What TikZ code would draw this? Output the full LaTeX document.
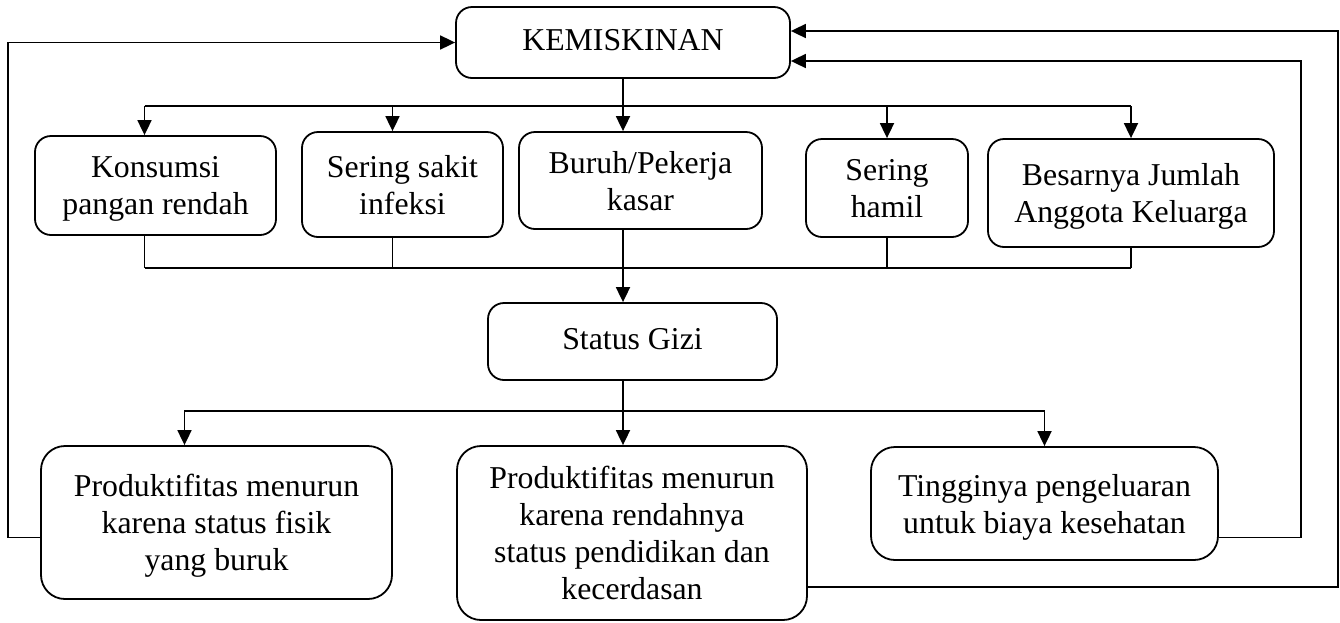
\documentclass[tikz,border=0pt]{standalone}
\usepackage{fontspec}
\setmainfont{Liberation Serif}
\usepackage{tikz}
\usetikzlibrary{arrows.meta}

\begin{document}
\begin{tikzpicture}[x=0.5pt, y=-0.5pt, line width=0.9pt,
  >={Triangle[length=7.5pt, width=7pt]},
  plainbox/.style={draw, rounded corners=8pt, align=center, inner sep=0pt,
    font=\fontsize{15.9}{18.5}\selectfont},
  box/.style={plainbox, text depth=-3.5pt},
  onebox/.style={plainbox, text depth=2.5pt},
  bigbox/.style={box, rounded corners=12pt}]
\useasboundingbox (0,0) rectangle (1340,622);

\node [onebox, minimum width=167pt, minimum height=35.5pt] (kem) at (623,42.5) {KEMISKINAN};

\node [box, minimum width=120.5pt, minimum height=49.5pt] (konsumsi) at (155.5,185.5) {Konsumsi\\pangan rendah};
\node [box, minimum width=100.5pt, minimum height=52.5pt] (sakit) at (402.5,184.5) {Sering sakit\\infeksi};
\node [box, minimum width=121.5pt, minimum height=48.5pt] (buruh) at (640.5,180.5) {Buruh/Pekerja\\kasar};
\node [box, minimum width=81pt, minimum height=49pt] (hamil) at (887,188) {Sering\\hamil};
\node [box, minimum width=143pt, minimum height=54pt] (besar) at (1131,193) {Besarnya Jumlah\\Anggota Keluarga};

\node [onebox, minimum width=144.5pt, minimum height=38.5pt] (gizi) at (632.5,341.5) {Status Gizi};

\node [bigbox, minimum width=175.5pt, minimum height=76.5pt] (fisik) at (216.5,522.5) {Produktifitas menurun\\karena status fisik\\yang buruk};
\node [bigbox, text depth=-11pt, minimum width=175pt, minimum height=87pt] (didik) at (632,533) {Produktifitas menurun\\karena rendahnya\\status pendidikan dan\\kecerdasan};
\node [bigbox, minimum width=173.5pt, minimum height=56.5pt] (tinggi) at (1044.5,503.5) {Tingginya pengeluaran\\untuk biaya kesehatan};

% kemiskinan to causes
\coordinate (upper) at (0,106);
\draw[->] (kem.south) -- (kem.south |- buruh.north);
\draw ([xshift=-5.5pt]konsumsi.north |- upper) -- (besar.north |- upper);
\draw[->] ([xshift=-5.5pt]konsumsi.north |- upper) -- ([xshift=-5.5pt]konsumsi.north);
\draw[->] ([xshift=-5pt]sakit.north |- upper) -- ([xshift=-5pt]sakit.north);
\draw[->] (hamil.north |- upper) -- (hamil.north);
\draw[->] (besar.north |- upper) -- (besar.north);

% causes to status gizi
\coordinate (lower) at (0,268);
\draw ([xshift=-5.5pt]konsumsi.south |- lower) -- (besar.south |- lower);
\draw ([xshift=-5.5pt]konsumsi.south) -- ([xshift=-5.5pt]konsumsi.south |- lower);
\draw ([xshift=-5pt]sakit.south) -- ([xshift=-5pt]sakit.south |- lower);
\draw (hamil.south) -- (hamil.south |- lower);
\draw (besar.south) -- (besar.south |- lower);
\draw[->] (kem.south |- buruh.south) -- (kem.south |- gizi.north);

% status gizi to effects
\coordinate (mid) at (0,411);
\draw[->] (kem.south |- gizi.south) -- (kem.south |- didik.north);
\draw[->] (kem.south |- mid) -| ([xshift=-16pt]fisik.north);
\draw[->] (kem.south |- mid) -| (tinggi.north);

% back to kemiskinan
\draw[->] ([yshift=-7.5pt]fisik.west) -- ++(-32,0) |- (kem.west);
\draw[->] ([yshift=-17pt]tinggi.east) -- ++(82,0) |- ([yshift=-9.25pt]kem.east);
\draw[->] ([yshift=-27pt]didik.east) -- ++(530,0) |- ([yshift=5.75pt]kem.east);

\end{tikzpicture}
\end{document}
